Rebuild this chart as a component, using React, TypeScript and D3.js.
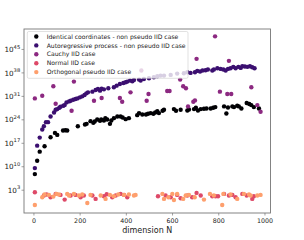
import * as d3 from 'd3';

// exponents (log10 of the value), paired with dimension N
const identicalN = [4, 14, 25, 46, 72, 91, 101, 126, 136, 144, 190, 221, 228, 245, 257, 263, 274, 286, 291, 303, 309, 317, 329, 335, 346, 361, 375, 384, 397, 411, 447, 455, 469, 485, 494, 505, 517, 525, 534, 541, 557, 563, 606, 615, 635, 664, 671, 693, 701, 710, 722, 736, 747, 765, 776, 785, 823, 833, 840, 859, 866, 880, 887, 898, 921, 932, 941, 952, 974];
const identicalExp = [7.8, 11.8, 14.5, 16.1, 18.8, 20.1, 19.5, 20.8, 20.9, 20.8, 22.1, 22.6, 22.8, 23.6, 23.1, 23.5, 24.1, 23.7, 24.1, 23.8, 24.5, 24.1, 22.8, 23.8, 24.5, 25.0, 25.0, 24.7, 24.2, 24.5, 25.4, 26.0, 25.6, 25.6, 25.8, 26.0, 25.8, 26.2, 26.6, 26.0, 26.7, 27.0, 27.2, 26.7, 27.0, 26.8, 27.1, 27.2, 27.6, 26.8, 27.2, 27.3, 27.4, 27.4, 27.6, 27.8, 28.0, 25.9, 27.7, 28.0, 27.8, 28.2, 28.0, 27.4, 29.0, 28.7, 28.4, 27.8, 27.4];

const arN = [4, 14, 25, 36, 43, 52, 61, 72, 87, 94, 101, 110, 115, 127, 133, 141, 152, 159, 170, 180, 188, 199, 209, 219, 227, 234, 253, 267, 277, 286, 293, 303, 322, 346, 358, 372, 387, 397, 404, 416, 426, 433, 455, 462, 476, 498, 519, 534, 548, 563, 592, 620, 649, 664, 678, 697, 707, 719, 730, 743, 753, 772, 779, 794, 808, 820, 830, 840, 851, 863, 873, 885, 895, 902, 913, 924, 935, 945, 955];
const arExp = [9.6, 16.3, 18.7, 21.1, 22.1, 23.3, 23.3, 25.0, 26.2, 27.0, 27.2, 27.6, 27.9, 28.2, 28.4, 29.2, 29.5, 29.7, 30.0, 30.2, 30.4, 30.7, 31.0, 31.4, 31.9, 32.2, 32.4, 32.9, 33.2, 32.7, 33.3, 33.1, 33.4, 33.7, 34.2, 34.7, 35.0, 35.2, 35.4, 35.7, 35.5, 35.9, 36.0, 35.7, 36.2, 36.4, 36.7, 37.0, 37.2, 37.2, 37.4, 37.8, 37.9, 38.2, 38.0, 38.2, 38.6, 38.4, 38.7, 38.8, 39.0, 38.7, 39.0, 39.4, 39.2, 39.0, 38.7, 39.2, 39.4, 39.8, 39.4, 39.8, 39.5, 40.0, 39.9, 39.8, 40.0, 39.7, 39.4];

const cauchyN = [4, 36, 84, 94, 163, 173, 260, 293, 372, 382, 418, 465, 488, 496, 577, 587, 633, 646, 658, 667, 690, 697, 704, 784, 805, 837, 844, 854, 941, 967, 981];
const cauchyExp = [30.4, 31.2, 34.0, 28.8, 26.7, 35.4, 29.7, 30.5, 30.5, 29.4, 32.2, 38.7, 29.7, 31.7, 32.6, 32.6, 36.0, 34.0, 33.4, 28.0, 29.4, 29.8, 42.2, 48.9, 32.4, 31.7, 41.6, 31.7, 33.7, 28.4, 26.4];

const normalN = [4, 43, 55, 72, 94, 115, 133, 159, 180, 202, 216, 253, 267, 303, 315, 339, 354, 375, 390, 404, 537, 570, 592, 620, 635, 664, 685, 704, 722, 772, 786, 797, 823, 844, 859, 873, 902, 921, 945, 952];
const normalExp = [2.4, 1.4, 1.7, 0.9, 1.9, 1.6, 0.2, 1.4, 1.6, 0.9, 1.4, 1.4, 0.4, 1.2, 1.8, 0.9, 1.4, 1.9, 1.6, 0.9, 1.2, 1.4, 0.9, 1.6, 0.6, 1.4, 0.9, 2.2, 1.4, 1.2, 1.2, 1.2, 1.9, 1.4, 1.6, 0.9, 1.9, 1.4, 0.4, 1.2];

const orthoN = [4, 36, 46, 65, 84, 97, 108, 144, 152, 173, 195, 209, 231, 245, 289, 310, 329, 346, 365, 390, 411, 433, 440, 556, 563, 582, 599, 606, 620, 646, 657, 671, 696, 736, 762, 779, 815, 820, 851, 880, 909, 931, 938, 967, 981];
const orthoExp = [-1.4, 0.9, 1.7, 1.6, 1.1, 1.9, 1.7, 1.9, 1.4, 1.9, 1.4, 1.7, -0.8, 1.6, 1.4, 0.4, 1.6, 1.2, 1.7, 1.6, 1.7, 1.4, 1.6, 1.9, 0.4, 0.9, 1.9, 0.1, 1.9, 0.4, 1.4, 1.6, 0.9, 0.2, 1.9, 1.4, -1.4, 1.9, 1.7, 0.4, 1.9, 1.7, 1.4, 1.4, 1.6];

const seriesLabels = [
  'Identical coordinates - non pseudo IID case',
  'Autoregressive process - non pseudo IID case',
  'Cauchy IID case',
  'Normal IID case',
  'Orthogonal pseudo IID case',
];

const xTicks = [0, 200, 400, 600, 800, 1000];
const yTickExps = [3, 10, 17, 24, 31, 38, 45];

const W = 304;
const H = 240;
const FONT = 'DejaVu Sans, sans-serif';

export default function App() {
  const left = 24, right = 270.5, top = 29, bottom = 213;

  const x = d3.scaleLinear().domain([-43, 1024]).range([left, right]);
  const y = d3.scaleLog().domain([10 ** -3.8, 10 ** 51.1]).range([bottom, top]);

  const colors = [0, 0.2, 0.4, 0.6, 0.8].map((t) => d3.interpolateMagma(t));

  const series = [
    [identicalN, identicalExp],
    [arN, arExp],
    [cauchyN, cauchyExp],
    [normalN, normalExp],
    [orthoN, orthoExp],
  ].map(([ns, es], i) => ({
    color: colors[i],
    label: seriesLabels[i],
    points: ns.map((n, j) => ({ n, v: 10 ** es[j] })),
  }));

  const r = 2.2;
  const axisColor = '#777';

  return (
    <svg
      width={W}
      height={H}
      style={{ position: 'absolute', left: 0, top: 0, background: '#fff' }}
      fontFamily={FONT}
    >
      {/* points */}
      {series.map((s, i) => (
        <g key={i} fill={s.color}>
          {s.points.map((p, j) => (
            <circle key={j} cx={x(p.n)} cy={y(p.v)} r={r} />
          ))}
        </g>
      ))}

      {/* frame */}
      <rect x={left} y={top} width={right - left} height={bottom - top}
        fill="none" stroke={axisColor} strokeWidth={0.9} />

      {/* x axis */}
      {xTicks.map((t) => (
        <g key={t} transform={`translate(${x(t)},${bottom})`}>
          <line y1={0} y2={2.5} stroke={axisColor} strokeWidth={0.7} />
          <text y={10.3} textAnchor="middle" fontSize={6.3} fill="#222">{t}</text>
        </g>
      ))}
      <text x={(left + right) / 2} y={233.3} textAnchor="middle" fontSize={8} fill="#222">
        dimension N
      </text>

      {/* y axis */}
      {yTickExps.map((e) => (
        <g key={e} transform={`translate(${left},${y(10 ** e)})`}>
          <line x1={-2.5} x2={0} stroke={axisColor} strokeWidth={0.7} />
          <text x={-3.8} y={2.6} textAnchor="end" fontSize={7.2} fill="#222">
            10<tspan dy={-3.4} fontSize={5.2}>{e}</tspan>
          </text>
        </g>
      ))}

      {/* legend */}
      <g transform="translate(27.3,31.5)">
        <rect width={160.7} height={46.8} rx={1.5} fill="#fff" fillOpacity={0.8}
          stroke="#ccc" strokeWidth={0.6} />
        {series.map((s, i) => (
          <g key={i} transform={`translate(0,${5 + i * 8.9})`}>
            <circle cx={9} cy={0} r={r} fill={s.color} />
            <text x={19.4} y={2.1} fontSize={6.1} fill="#222">{s.label}</text>
          </g>
        ))}
      </g>
    </svg>
  );
}
